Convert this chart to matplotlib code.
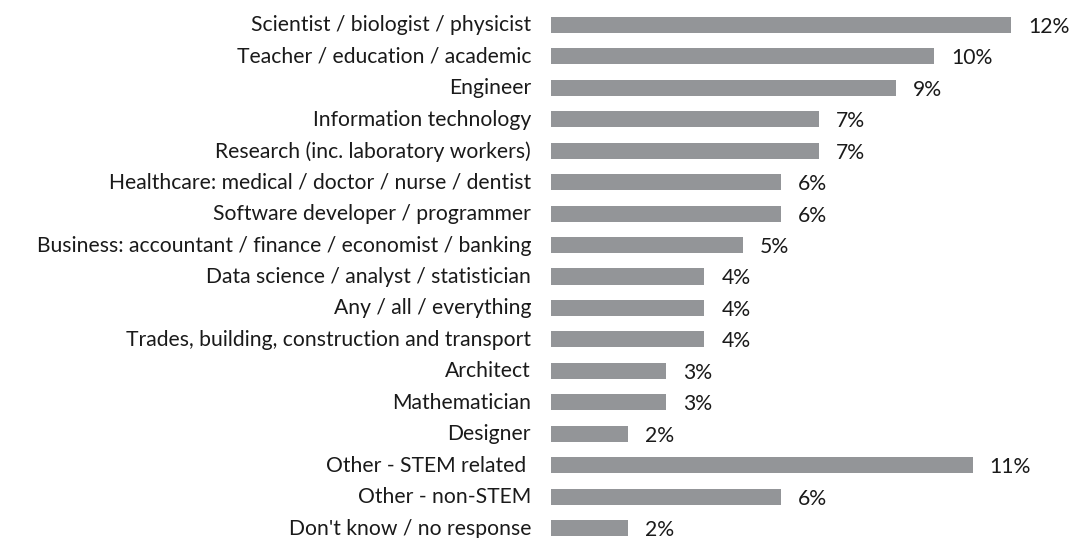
import matplotlib.pyplot as plt
import matplotlib.transforms as mtransforms

plt.rcParams["font.family"] = ["Lato", "DejaVu Sans"]

# =============================================================================
# Data

categories = [
    "Scientist / biologist / physicist",
    "Teacher / education / academic",
    "Engineer",
    "Information technology",
    "Research (inc. laboratory workers)",
    "Healthcare: medical / doctor / nurse / dentist",
    "Software developer / programmer",
    "Business: accountant / finance / economist / banking",
    "Data science / analyst / statistician",
    "Any / all / everything",
    "Trades, building, construction and transport",
    "Architect",
    "Mathematician",
    "Designer",
    "Other - STEM related ",
    "Other - non-STEM",
    "Don't know / no response",
]
values = [12, 10, 9, 7, 7, 6, 6, 5, 4, 4, 4, 3, 3, 2, 11, 6, 2]
value_labels = ["12%", "10%", "9%", "7%", "7%", "6%", "6%", "5%", "4%", "4%",
                "4%", "3%", "3%", "2%", "11%", "6%", "2%"]

# =============================================================================
# Plot

BAR_COLOUR = "#939598"
TEXT_COLOUR = "#1a1a1a"
FS = 15.2

fg = plt.figure(figsize=(10.71, 5.38), dpi=100)
ax = fg.add_axes([0.5145, 0.0, 0.4855, 1.0])

pos = list(range(len(categories)))
ax.barh(pos, values, height=0.51, color=BAR_COLOUR)

for p, v, lab in zip(pos, values, value_labels):
    ax.annotate(lab, (v, p), xytext=(17, -2), textcoords="offset pixels",
                va="center", ha="left", fontsize=FS, color=TEXT_COLOUR)

ax.set_yticks(pos)
ax.set_yticklabels(categories, fontsize=FS, color=TEXT_COLOUR)
ax.tick_params(axis="y", length=0, pad=14.4)
ax.set_xticks([])

# lift category labels a pixel so descenders on the last row stay in frame
shift = mtransforms.ScaledTranslation(0, 1.5 / 100, fg.dpi_scale_trans)
for t in ax.get_yticklabels():
    t.set_transform(t.get_transform() + shift)

ax.set_xlim(0, 13.565)
ax.set_ylim(16.318, -0.795)

for s in ax.spines.values():
    s.set_visible(False)

fg.savefig("out.png", dpi=100)
